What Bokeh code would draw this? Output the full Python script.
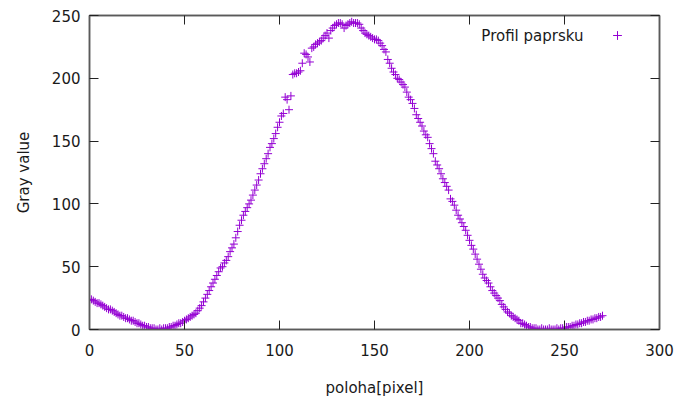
from bokeh.plotting import figure
from bokeh.models import Range1d, FixedTicker, LinearAxis, Legend, LegendItem, Label
from bokeh.embed import file_html
from bokeh.resources import INLINE

# poloha [pixel] 0..270 and gray value
gray_value = [
    24, 24, 23, 22, 21, 21, 20, 19, 18, 17,
    16, 16, 15, 14, 13, 12, 11, 11, 10, 9,
    9, 8, 7, 7, 6, 5, 5, 4, 3, 3,
    2, 2, 1, 1, 1, 0, 0, 1, 0, 1,
    1, 1, 2, 2, 3, 3, 4, 5, 5, 6,
    7, 8, 9, 10, 11, 12, 13, 15, 17, 19,
    22, 25, 28, 31, 34, 37, 40, 43, 46, 49,
    50, 53, 55, 58, 62, 65, 68, 73, 78, 83,
    87, 91, 94, 97, 100, 103, 107, 111, 115, 119,
    124, 128, 132, 136, 140, 145, 148, 152, 156, 161,
    165, 170, 172, 185, 183, 175, 186, 203, 204, 204,
    205, 206, 212, 220, 219, 217, 213, 224, 225, 227,
    228, 229, 230, 232, 234, 236, 232, 238, 240, 242,
    243, 244, 244, 243, 240, 242, 243, 244, 245, 244,
    244, 244, 243, 240, 238, 236, 235, 234, 233, 232,
    231, 231, 230, 228, 226, 223, 221, 215, 212, 208,
    205, 203, 200, 199, 197, 195, 193, 189, 185, 183,
    180, 176, 171, 168, 165, 162, 158, 155, 153, 148,
    144, 140, 134, 131, 128, 124, 120, 117, 114, 111,
    104, 102, 99, 95, 91, 88, 85, 82, 79, 75,
    71, 67, 64, 60, 56, 52, 48, 44, 41, 39,
    37, 34, 31, 29, 27, 25, 23, 20, 18, 16,
    14, 13, 11, 10, 9, 8, 7, 5, 5, 4,
    3, 2, 2, 1, 1, 1, 0, 0, 1, 0,
    0, 0, 1, 0, 0, 0, 1, 0, 1, 1,
    1, 2, 2, 2, 3, 3, 4, 4, 5, 5,
    6, 6, 7, 7, 8, 8, 9, 9, 10, 10, 11,
]
poloha = list(range(len(gray_value)))

x_ticks = [0, 50, 100, 150, 200, 250, 300]
y_ticks = [0, 50, 100, 150, 200, 250]
series_label = "Profil paprsku"
x_label = "poloha[pixel]"
y_label = "Gray value"

FONT = "DejaVu Sans"
FS = "15px"
COLOR = "#9400d3"
TEXT = "#1a1a1a"

p = figure(width=692, height=401, output_backend="svg", toolbar_location=None,
           x_range=Range1d(0, 300), y_range=Range1d(0, 250),
           min_border_left=89, min_border_right=33, min_border_top=15, min_border_bottom=72)
p.xgrid.visible = False
p.ygrid.visible = False
p.outline_line_color = "#5a5a5a"
p.outline_line_width = 1.5
p.background_fill_color = "white"
p.border_fill_color = "white"

r = p.scatter(poloha, gray_value, marker="cross", size=8,
              line_color=COLOR, fill_color=None, line_width=1)


def style(ax, ticks, labels=True):
    ax.ticker = FixedTicker(ticks=ticks)
    ax.major_tick_in = 9
    ax.major_tick_out = 0
    ax.minor_tick_in = 0
    ax.minor_tick_out = 0
    ax.major_tick_line_color = "#222222"
    ax.axis_line_color = "#5a5a5a"
    ax.axis_line_width = 1.5
    ax.major_label_text_font = FONT
    ax.major_label_text_font_size = FS
    ax.major_label_text_color = TEXT
    ax.axis_label_text_font = FONT
    ax.axis_label_text_font_size = FS
    ax.axis_label_text_font_style = "normal"
    ax.axis_label_text_color = TEXT
    if not labels:
        ax.major_label_text_font_size = "1px"
        ax.major_label_text_color = None
        ax.major_label_standoff = 0


p.xaxis.axis_label = x_label
p.yaxis.axis_label = y_label
style(p.xaxis[0], x_ticks)
style(p.yaxis[0], y_ticks)
p.xaxis.major_label_standoff = 14
p.yaxis.major_label_standoff = 9
p.xaxis.axis_label_standoff = 20
p.yaxis.axis_label_standoff = 16

top = LinearAxis()
right = LinearAxis()
p.add_layout(top, "above")
p.add_layout(right, "right")
style(top, x_ticks, labels=False)
style(right, y_ticks, labels=False)

legend = Legend(items=[LegendItem(label=" ", renderers=[r])], location=(517, 283),
                border_line_color=None, background_fill_alpha=0,
                padding=0, margin=0, spacing=0, glyph_width=22, glyph_height=22,
                label_standoff=0, label_width=0, label_text_font_size="1px")
p.add_layout(legend)

p.add_layout(Label(x=494, y=294, x_units="screen", y_units="screen", text=series_label,
                   text_font=FONT, text_font_size=FS, text_color=TEXT,
                   text_align="right", text_baseline="middle"))

html = file_html(p, INLINE)
open("out.html", "w").write(html)
